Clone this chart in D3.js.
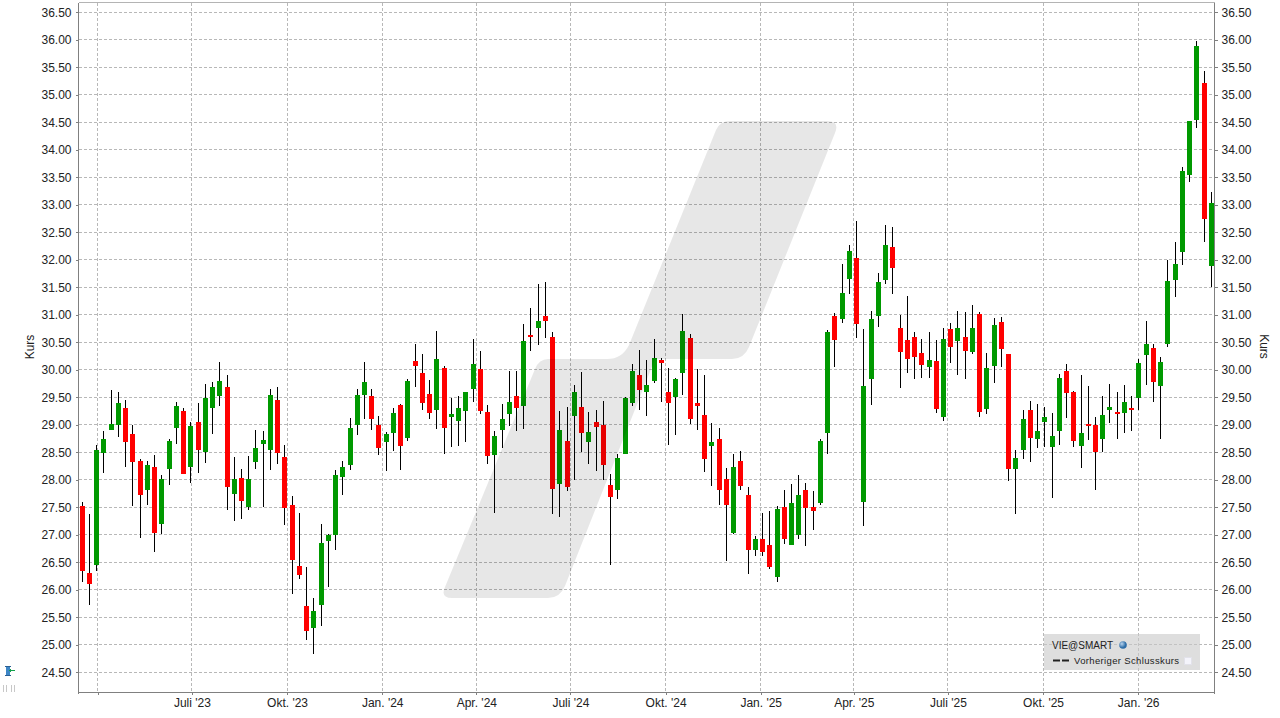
<!DOCTYPE html>
<html>
<head>
<meta charset="utf-8">
<script src="https://cdn.jsdelivr.net/npm/d3@7"></script>
<style>
html,body{margin:0;padding:0;background:#fff;overflow:hidden}
svg{display:block}
text{font-family:"Liberation Sans",Arial,sans-serif;fill:#222}
</style>
</head>
<body>
<div id="chart"></div>
<script>
const firstWeek = "2023-03-17";
const opens = [
27.52,26.30,26.45,28.48,28.90,28.99,29.30,28.83,28.34,27.81,
28.23,27.19,28.19,28.95,29.25,28.23,29.05,28.50,29.30,29.52,
29.68,27.74,28.03,27.50,28.32,28.66,28.54,29.45,28.41,27.55,
26.43,25.70,25.30,25.72,26.88,26.99,28.06,28.26,28.99,29.54,
29.52,29.00,28.69,28.85,29.36,28.76,30.16,29.94,29.56,29.27,
30.03,29.14,29.07,29.25,29.65,30.02,29.23,28.45,28.91,29.20,
29.52,29.34,30.63,30.76,30.98,30.60,27.92,28.71,29.16,29.32,
28.69,29.05,29.00,27.91,27.82,28.47,29.40,29.91,29.60,29.80,
30.18,29.59,29.50,29.95,30.57,29.39,29.17,28.62,28.75,28.01,
27.04,28.35,27.73,26.73,26.92,26.82,26.24,27.50,26.81,26.99,
27.81,27.50,27.57,28.86,30.97,30.92,31.65,32.03,27.60,29.83,
30.98,31.63,32.23,30.76,30.54,30.60,30.31,30.05,30.16,29.14,
30.74,30.52,30.60,30.32,31.02,29.29,30.07,30.87,30.29,28.20,
28.54,29.27,28.74,29.06,28.59,28.88,29.97,29.59,28.62,29.01,
28.99,28.75,29.26,29.24,29.21,29.30,29.48,30.26,30.39,29.70,
30.46,31.64,32.15,33.55,34.55,35.21,31.88];
const highs = [
27.59,27.37,28.63,28.88,29.63,29.59,29.45,28.99,28.37,28.34,
28.45,28.08,28.75,29.41,29.30,29.06,29.39,29.75,29.77,30.14,
29.90,28.41,28.19,28.43,28.90,28.88,29.66,29.68,28.63,27.70,
27.39,26.41,25.86,27.19,27.01,28.17,28.35,29.12,29.65,30.15,
29.65,29.16,28.87,29.31,29.38,29.83,30.47,30.29,29.82,30.71,
30.07,29.49,29.52,29.60,30.56,30.34,29.36,28.89,29.38,29.98,
29.98,30.83,31.12,31.56,31.60,30.69,29.25,29.32,29.72,29.96,
29.23,29.27,29.43,28.11,28.47,29.51,30.11,30.36,30.18,30.56,
30.21,30.04,29.86,31.02,30.66,30.01,29.90,29.04,28.95,28.22,
28.46,28.52,27.86,26.97,27.39,27.44,27.53,27.81,27.93,28.08,
27.95,27.79,28.75,30.72,31.04,31.92,32.27,32.71,30.74,31.07,
31.76,32.63,32.60,31.00,31.34,30.69,30.56,30.69,30.54,30.76,
30.85,31.07,31.05,31.18,31.05,30.31,30.94,30.96,30.29,28.54,
29.27,29.43,29.38,29.33,29.22,29.93,30.10,29.61,29.90,29.70,
29.15,29.52,29.75,29.59,29.72,29.52,30.19,30.88,30.46,30.24,
31.99,32.33,33.68,34.53,35.97,35.44,33.24];
const lows = [
26.14,25.72,26.35,28.12,28.90,28.77,28.23,27.52,26.95,27.55,
26.68,27.01,27.90,28.65,28.10,27.95,28.12,28.30,28.83,29.35,
27.45,27.25,27.28,27.45,28.19,27.50,28.17,28.28,27.17,25.92,
26.19,25.08,24.83,25.34,26.05,26.72,27.72,28.17,28.81,29.10,
28.91,28.45,28.16,28.52,28.18,28.71,29.69,29.27,29.11,28.92,
28.47,28.60,28.62,28.69,29.42,29.20,28.29,27.40,28.58,28.98,
28.89,28.92,30.34,30.45,30.58,27.38,27.32,27.80,28.00,28.51,
28.29,28.16,28.00,26.45,27.65,28.47,29.34,29.27,29.16,29.76,
29.41,28.64,28.81,29.55,29.02,28.90,28.15,27.88,27.55,26.52,
27.01,27.82,26.28,26.62,26.62,26.37,26.15,26.84,26.81,26.92,
26.79,27.08,27.55,28.46,30.06,30.85,31.38,30.58,27.16,29.36,
30.78,31.56,31.38,29.67,29.94,29.83,29.85,29.85,29.22,29.07,
30.12,29.91,29.83,30.29,29.14,29.20,29.76,30.05,27.98,27.38,
28.38,28.32,28.58,28.59,27.66,28.64,29.12,28.59,28.21,28.73,
27.82,28.50,29.04,28.75,28.86,28.88,29.26,29.73,29.42,28.75,
30.42,31.32,31.90,33.41,34.39,32.32,31.50];
const closes = [
26.35,26.10,28.54,28.75,29.01,29.39,28.68,28.32,27.72,28.26,
27.03,28.01,28.70,29.35,28.10,28.97,28.54,29.48,29.68,29.79,
27.86,28.01,27.61,28.01,28.57,28.72,29.55,28.48,27.48,26.54,
26.26,25.25,25.61,26.85,26.99,28.08,28.23,28.94,29.54,29.77,
29.11,28.58,28.83,29.22,28.62,29.80,30.07,29.40,29.22,30.20,
28.94,29.20,29.31,29.60,30.11,29.25,28.43,28.80,29.11,29.42,
29.31,30.52,30.60,30.89,30.89,27.83,28.91,27.87,29.60,28.85,
28.87,28.96,28.27,27.69,28.40,29.49,29.98,29.63,29.72,30.22,
30.13,29.39,29.84,30.70,29.10,29.35,28.37,28.68,27.81,27.55,
28.24,27.88,26.73,26.93,26.68,26.42,27.46,26.93,27.57,27.73,
27.48,27.44,28.70,30.68,30.55,31.40,32.16,30.83,29.71,30.92,
31.60,32.27,31.85,30.32,30.20,30.23,30.09,30.18,29.29,30.56,
30.42,30.76,30.34,30.76,29.23,30.03,30.82,30.38,28.20,28.40,
29.11,28.76,28.89,29.15,28.79,29.86,29.57,28.70,28.86,28.97,
28.50,29.17,29.33,29.19,29.42,29.26,30.13,30.46,29.77,30.15,
31.61,31.93,33.61,34.52,35.88,32.75,33.04];
const yTicks = ["24.50","25.00","25.50","26.00","26.50","27.00","27.50","28.00","28.50","29.00","29.50","30.00","30.50","31.00","31.50","32.00","32.50","33.00","33.50","34.00","34.50","35.00","35.50","36.00","36.50"];
const xTickDates = ["2023-04-01","2023-07-01","2023-10-01","2024-01-01","2024-04-01","2024-07-01","2024-10-01","2025-01-01","2025-04-01","2025-07-01","2025-10-01","2026-01-01"];
const xTickLabels = ["","Juli '23","Okt. '23","Jan. '24","Apr. '24","Juli '24","Okt. '24","Jan. '25","Apr. '25","Juli '25","Okt. '25","Jan. '26"];
const legendSymbol = "VIE@SMART";
const legendLine = "Vorheriger Schlusskurs";
const axisTitle = "Kurs";

const W = 1280, H = 718;
const L = 78.5, R = 1214.5, T = 2.5, B = 692.5;
const GREEN = "#009900", RED = "#ff0000";

const weeks = opens.map((_, i) => d3.utcDay.offset(new Date(firstWeek + "T00:00:00Z"), i * 7));
const y = d3.scaleLinear().domain([24.5, 36.5]).range([672.3, 12.3]);
const xTime = d3.scaleUtc()
  .domain([new Date("2023-04-01T00:00:00Z"), new Date("2026-01-01T00:00:00Z")])
  .range([97.8, 1138.2]);
const xCandle = d3.scalePoint().domain(weeks.map(d => +d)).range([82.27, 1211.27]);
const snap = v => Math.floor(v) + 0.5;

const svg = d3.select("#chart").append("svg").attr("width", W).attr("height", H).attr("viewBox", `0 0 ${W} ${H}`);
const crisp = svg.append("g").attr("shape-rendering", "crispEdges");

// grid
const grid = crisp.append("g").attr("stroke", "#b8b8b8").attr("stroke-width", 1).attr("stroke-dasharray", "3,2");
grid.selectAll("line.h").data(yTicks).join("line").attr("class", "h")
  .attr("x1", L).attr("x2", R)
  .attr("y1", d => snap(y(+d))).attr("y2", d => snap(y(+d)));
grid.selectAll("line.v").data(xTickDates).join("line").attr("class", "v")
  .attr("x1", d => snap(xTime(new Date(d + "T00:00:00Z")))).attr("x2", d => snap(xTime(new Date(d + "T00:00:00Z"))))
  .attr("y1", T).attr("y2", B);

// candles
const candles = crisp.append("g").selectAll("g").data(weeks).join("g");
candles.append("line")
  .attr("x1", (d) => snap(xCandle(+d))).attr("x2", (d) => snap(xCandle(+d)))
  .attr("y1", (d, i) => Math.round(y(highs[i]))).attr("y2", (d, i) => Math.round(y(lows[i])))
  .attr("stroke", "#000").attr("stroke-width", 1);
candles.append("rect")
  .attr("x", (d) => Math.floor(xCandle(+d)) - 2)
  .attr("width", 5)
  .attr("y", (d, i) => Math.round(y(Math.max(opens[i], closes[i]))))
  .attr("height", (d, i) => Math.max(2, Math.round(y(Math.min(opens[i], closes[i]))) - Math.round(y(Math.max(opens[i], closes[i])))))
  .attr("fill", (d, i) => closes[i] >= opens[i] ? GREEN : RED);

// watermark (over the marks)
svg.append("path")
  .attr("d", "M548,359 L607,359 Q622,359 629,345 L716,130 Q720,121 730,121 L827,121 Q840,121 835,133 L749,347 Q744,359 732,359 L655,359 L565,586 Q560,598 548,598 L452,598 Q440,598 445,587 L535,369 Q539,359 548,359 Z")
  .attr("fill", "#000").attr("fill-opacity", 0.095);

// frame
const frame = crisp.append("g").attr("fill", "none");
frame.append("line").attr("x1", L).attr("x2", R).attr("y1", T).attr("y2", T).attr("stroke", "#b4b4b4");
frame.append("line").attr("x1", L).attr("x2", L).attr("y1", T).attr("y2", B + 1).attr("stroke", "#808080").attr("stroke-width", 1.6);
frame.append("line").attr("x1", R).attr("x2", R).attr("y1", T).attr("y2", B + 1).attr("stroke", "#808080").attr("stroke-width", 1.6);
frame.append("line").attr("x1", L).attr("x2", R).attr("y1", B).attr("y2", B).attr("stroke", "#808080").attr("stroke-width", 1.6);

// axes
const tickVals = yTicks.map(Number);
const leftAxis = d3.axisLeft(y).tickValues(tickVals).tickFormat(d3.format(".2f")).tickSize(3).tickPadding(4);
const rightAxis = d3.axisRight(y).tickValues(tickVals).tickFormat(d3.format(".2f")).tickSize(3).tickPadding(4);
const bottomAxis = d3.axisBottom(xTime)
  .tickValues(xTickDates.map(d => new Date(d + "T00:00:00Z")))
  .tickFormat((d, i) => xTickLabels[i]).tickSize(2).tickPadding(4);
function styleAxis(g) {
  g.select(".domain").remove();
  g.selectAll("line").attr("stroke", "#808080").attr("shape-rendering", "crispEdges");
  g.selectAll("text").attr("font-size", 12).attr("font-family", '"Liberation Sans",Arial,sans-serif').attr("fill", "#222");
}
function liftLabels(g) { g.selectAll("text").attr("dy", "0.31em"); }
svg.append("g").attr("transform", `translate(${L},0)`).call(leftAxis).call(styleAxis).call(liftLabels);
svg.append("g").attr("transform", `translate(${R},0)`).call(rightAxis).call(styleAxis).call(liftLabels);
svg.append("g").attr("transform", `translate(0,${B})`).call(bottomAxis).call(styleAxis);

// axis titles
svg.append("text").attr("transform", "translate(33.5,347) rotate(-90)").attr("text-anchor", "middle").attr("font-size", 12).text(axisTitle);
svg.append("text").attr("transform", "translate(1260,346.5) rotate(90)").attr("text-anchor", "middle").attr("font-size", 12).text(axisTitle);

// legend
const lg = svg.append("g");
lg.append("rect").attr("x", 1044).attr("y", 634).attr("width", 156).attr("height", 36).attr("fill", "#c8c8c8").attr("fill-opacity", 0.6).attr("shape-rendering", "crispEdges");
lg.append("text").attr("x", 1052).attr("y", 648.5).attr("font-size", 10).text(legendSymbol);
const globe = svg.append("defs").append("radialGradient").attr("id", "gl").attr("cx", "35%").attr("cy", "35%");
globe.append("stop").attr("offset", "0%").attr("stop-color", "#b8d4ee");
globe.append("stop").attr("offset", "100%").attr("stop-color", "#2f6ea8");
lg.append("circle").attr("cx", 1123).attr("cy", 645).attr("r", 3.8).attr("fill", "url(#gl)");
lg.append("line").attr("x1", 1053).attr("x2", 1070).attr("y1", 660.5).attr("y2", 660.5).attr("stroke", "#222").attr("stroke-width", 2).attr("stroke-dasharray", "7,2");
lg.append("text").attr("x", 1074).attr("y", 664).attr("font-size", 9.5).attr("letter-spacing", "0.35").text(legendLine);
lg.append("rect").attr("x", 1184.5).attr("y", 657.5).attr("width", 7).attr("height", 7).attr("fill", "#f4f4fb").attr("stroke", "#e2e2ea").attr("shape-rendering", "crispEdges");

// corner tool icon
const ic = svg.append("g").attr("shape-rendering", "crispEdges");
ic.append("rect").attr("x", 6).attr("y", 666).attr("width", 4).attr("height", 9).attr("fill", "#3d86c6");
ic.append("line").attr("x1", 5).attr("x2", 11).attr("y1", 666.5).attr("y2", 666.5).attr("stroke", "#2b5f93");
ic.append("line").attr("x1", 5).attr("x2", 11).attr("y1", 675.5).attr("y2", 675.5).attr("stroke", "#2b5f93");
ic.append("line").attr("x1", 9).attr("x2", 15).attr("y1", 670.5).attr("y2", 670.5).attr("stroke", "#12a04a");
ic.append("line").attr("x1", 10.5).attr("x2", 10.5).attr("y1", 669).attr("y2", 672).attr("stroke", "#12a04a");
[3.5, 6.5, 11.5, 14.5].forEach(px => ic.append("line").attr("x1", px).attr("x2", px).attr("y1", 685).attr("y2", 692).attr("stroke", "#c8c8c8"));
</script>
</body>
</html>
